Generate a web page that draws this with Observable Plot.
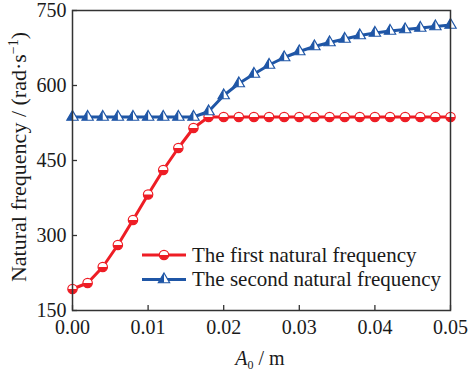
<!DOCTYPE html>
<html><head><meta charset="utf-8">
<script src="https://cdn.jsdelivr.net/npm/d3@7"></script>
<script src="https://cdn.jsdelivr.net/npm/@observablehq/plot@0.6"></script>
<style>
body{margin:0;background:#fff}
#chart{position:relative;width:469px;height:374px}
#chart svg, #chart text, #chart tspan {font-family: "Liberation Serif", "Times New Roman", "DejaVu Serif", serif !important;}
</style>
</head><body><div id="chart"></div>
<script>
const amplitude = [0,0.002,0.004,0.006,0.008,0.010,0.012,0.014,0.016,0.018,0.020,0.022,0.024,0.026,0.028,0.030,0.032,0.034,0.036,0.038,0.040,0.042,0.044,0.046,0.048,0.050];
const firstFreq = [193,205,237,281,331,382,431,475,515,537,537,537,537,537,537,537,537,537,537,537,537,537,537,537,537,537];
const secondFreq = [537,537,537,537,537,537,537,537,537,548,580,604,623,641,656,668,678,686,693,700,705,709,712,715,718,721];
const xTicks = [0,0.01,0.02,0.03,0.04,0.05];
const yTicks = [150,300,450,600,750];
const seriesNames = ["The first natural frequency","The second natural frequency"];

const RED = "#ee1d25", BLUE = "#1f56a6", INK = "#1a1a1a";
const FONT = "Liberation Serif, serif";
const sqrt3 = Math.sqrt(3);
const halfLower = {draw(ctx, size){const r = Math.sqrt(size/Math.PI); ctx.moveTo(r,0); ctx.arc(0,0,r,0,Math.PI); ctx.closePath();}};
const triLeft = {draw(ctx, size){const y = -Math.sqrt(size/(sqrt3*3)); ctx.moveTo(0,y*2); ctx.lineTo(sqrt3*y,-y); ctx.lineTo(0,-y); ctx.closePath();}};

const first = amplitude.map((a,i)=>({a, f:firstFreq[i]}));
const second = amplitude.map((a,i)=>({a, f:secondFreq[i]}));

const plot = Plot.plot({
  width: 469, height: 374,
  marginLeft: 72, marginRight: 19, marginTop: 10, marginBottom: 64,
  style: {fontSize: "20px", color: INK, background: "#fff"},
  x: {domain: [0,0.05]},
  y: {domain: [150,750]},
  marks: [
    Plot.axisX({ticks: xTicks, tickFormat: d=>d.toFixed(2), tickSize: -5, tickPadding: 14, label: null, fontSize: 20, stroke: "#333", strokeWidth: 1.3}),
    Plot.axisY({ticks: yTicks, tickSize: -5, tickPadding: 11, label: null, fontSize: 20, stroke: "#333", strokeWidth: 1.3}),
    Plot.line(first, {x:"a", y:"f", stroke: RED, strokeWidth: 3}),
    Plot.line(second, {x:"a", y:"f", stroke: BLUE, strokeWidth: 3}),
    Plot.dot(first, {x:"a", y:"f", r: 4.7, symbol: "circle", fill: "white", stroke: RED, strokeWidth: 1.2}),
    Plot.dot(first, {x:"a", y:"f", r: 4.7, symbol: halfLower, fill: RED}),
    Plot.dot(second, {x:"a", y:"f", r: 4.2, symbol: "triangle", fill: "white", stroke: BLUE, strokeWidth: 1.2}),
    Plot.dot(second, {x:"a", y:"f", r: 4.2, symbol: triLeft, fill: BLUE}),
    Plot.frame({stroke: "#333", strokeWidth: 1.5})
  ]
});
document.getElementById("chart").appendChild(plot);

const svg = d3.select(plot);
// axis titles
const yt = svg.append("text").attr("transform","translate(26,157) rotate(-90)")
  .attr("text-anchor","middle").attr("font-size",22).attr("fill",INK);
yt.append("tspan").text("Natural frequency / (rad·s");
yt.append("tspan").attr("font-size",14).attr("dy","-0.55em").text("−1");
yt.append("tspan").attr("dy","0.36em").text(")");

const xt = svg.append("text").attr("x",260).attr("y",365).attr("text-anchor","middle")
  .attr("font-size",20).attr("fill",INK);
xt.append("tspan").attr("font-style","italic").text("A");
xt.append("tspan").attr("font-size",12).attr("dy","0.3em").text("0");
xt.append("tspan").attr("dy","-0.18em").text(" / m");

// legend
const legend = [
  {name: seriesNames[0], color: RED, base: d3.symbolCircle, half: halfLower, r: 4.7},
  {name: seriesNames[1], color: BLUE, base: d3.symbolTriangle, half: triLeft, r: 4.2}
];
legend.forEach((d,i)=>{
  const g = svg.append("g").attr("transform",`translate(0,${255 + i*24.5})`);
  g.append("line").attr("x1",142).attr("x2",186).attr("y1",0).attr("y2",0).attr("stroke",d.color).attr("stroke-width",3);
  const size = Math.PI*d.r*d.r;
  g.append("path").attr("transform","translate(164,0)").attr("d", d3.symbol(d.base, size)()).attr("fill","white").attr("stroke",d.color).attr("stroke-width",1.2);
  g.append("path").attr("transform","translate(164,0)").attr("d", d3.symbol(d.half, size)()).attr("fill",d.color);
  g.append("text").attr("x",192).attr("y",6.5).attr("text-anchor","start").attr("font-size",21).attr("fill",INK).text(d.name);
});
</script></body></html>
